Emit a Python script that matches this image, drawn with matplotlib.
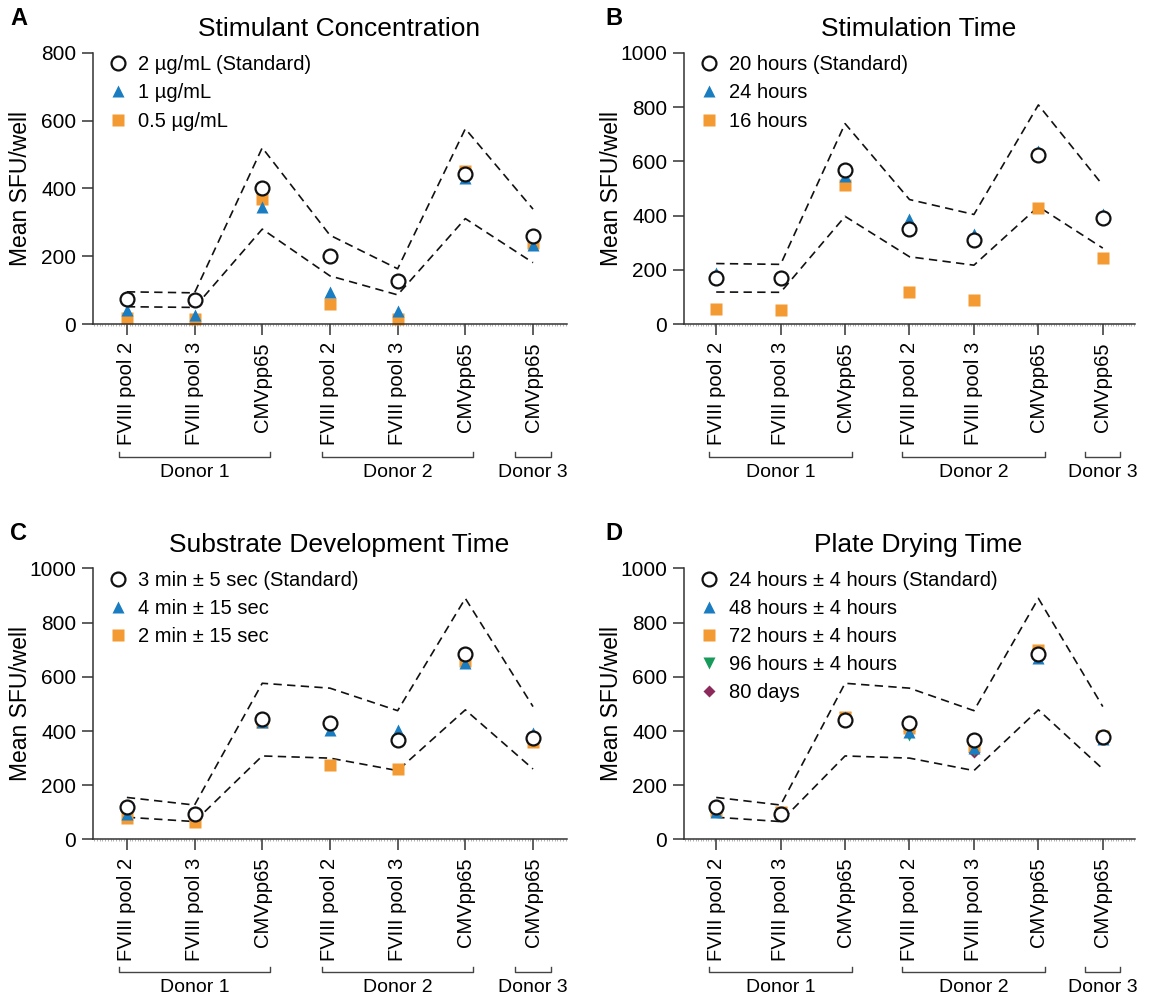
import numpy as np
import matplotlib
matplotlib.use("Agg")
import matplotlib.pyplot as plt
from matplotlib.ticker import MultipleLocator
from matplotlib.transforms import blended_transform_factory

plt.rcParams['font.family'] = ['Liberation Sans', 'DejaVu Sans']

# categories
cats = ["FVIII pool 2", "FVIII pool 3", "CMVpp65",
        "FVIII pool 2", "FVIII pool 3", "CMVpp65", "CMVpp65"]
donors = ["Donor 1", "Donor 2", "Donor 3"]

# A: stimulant concentration
a_std = [75, 72, 400, 200, 126, 443, 259]
a_1ug = [42, 27, 345, 95, 39, 432, 232]
a_05ug = [18, 16, 370, 59, 14, 450, 240]
a_up = [95, 92, 520, 262, 163, 576, 339]
a_lo = [51, 49, 280, 142, 86, 311, 181]

# B: stimulation time
b_20h = [171, 170, 568, 352, 309, 622, 392]
b_24h = [188, 177, 547, 388, 331, 637, 404]
b_16h = [54, 50, 512, 117, 87, 427, 243]
b_up = [223, 220, 739, 459, 404, 808, 512]
b_lo = [118, 117, 397, 248, 217, 433, 280]

# C: substrate development time
c_3min = [119, 95, 445, 429, 366, 684, 376]
c_4min = [95, 103, 432, 402, 402, 649, 392]
c_2min = [79, 66, 435, 275, 259, 658, 361]
c_up = [155, 127, 576, 558, 475, 889, 490]
c_lo = [82, 66, 308, 300, 254, 478, 260]

# D: plate drying time
d_24h = [119, 95, 442, 431, 367, 684, 377]
d_48h = [102, 97, 450, 398, 338, 669, 372]
d_72h = [104, 100, 450, 412, 343, 699, 382]
d_96h = [104, 97, 448, 386, 331, 685, 377]
d_80d = [104, 96, 446, 400, 324, 684, 377]
d_up = [155, 127, 576, 558, 475, 889, 490]
d_lo = [82, 66, 308, 300, 254, 478, 260]

blue = '#1a7cc1'
orange = '#f39a33'
green = '#179a5a'
maroon = '#8c2a5c'

W, H = 1170, 997
fig = plt.figure(figsize=(W / 100, H / 100), dpi=100)

x = np.arange(len(cats))


def panel(rect, letter, title, ymax, ystep, series, up, lo):
    ax = fig.add_axes(rect)
    ax.plot(x, up, ls=(0, (5, 3.2)), color='#111111', lw=1.2, zorder=1)
    ax.plot(x, lo, ls=(0, (5, 3.2)), color='#111111', lw=1.2, zorder=1)
    for vals, lab, mk, col, ms, zo in series:
        if mk == 'o':
            ax.plot(x, vals, 'o', ms=10, mfc='white', mec='#111111', mew=1.6,
                    label=lab, zorder=zo, clip_on=False)
        else:
            ax.plot(x, vals, mk, ms=ms, color=col, mec='none', label=lab,
                    zorder=zo, clip_on=False)
    ax.set_xlim(-0.5, 6.5)
    ax.set_ylim(0, ymax)
    ax.set_yticks(np.arange(0, ymax + 1, ystep))
    ax.set_xticks(x)
    ax.set_xticklabels(cats, rotation=90, fontsize=14.5)
    ax.xaxis.set_minor_locator(MultipleLocator(0.04))
    ax.tick_params(axis='x', which='minor', length=1.5, width=0.4, color='#777777')
    ax.tick_params(axis='both', which='major', length=8, width=1.1,
                   labelsize=15, color='#333333')
    ax.tick_params(axis='x', which='major', pad=5, labelsize=14.5)
    ax.tick_params(axis='y', which='major', pad=4)
    for s in ['top', 'right']:
        ax.spines[s].set_visible(False)
    for s in ['left', 'bottom']:
        ax.spines[s].set_linewidth(1.1)
        ax.spines[s].set_color('#333333')
    ax.set_ylabel("Mean SFU/well", fontsize=16.5)
    ax.yaxis.set_label_coords(-61 / (rect[2] * W), 0.5)
    ax.set_title(title, fontsize=19, pad=12, x=0.52)
    ax.text(-0.175, 1.085, letter, transform=ax.transAxes, fontsize=17,
            fontweight='bold', va='bottom', ha='left')
    ax.legend(loc='upper left', frameon=False, fontsize=14.5,
              bbox_to_anchor=(0.0, 1.035), handletextpad=0.35,
              labelspacing=0.45, borderaxespad=0.2, handlelength=1.3)
    # donor brackets
    tr = blended_transform_factory(ax.transData, ax.transAxes)
    for (x0, x1), name in zip([(-0.11, 2.11), (2.89, 5.11), (5.73, 6.27)], donors):
        ax.plot([x0, x0, x1, x1], [-0.471, -0.49, -0.49, -0.471], color='#444444',
                lw=1.0, transform=tr, clip_on=False)
        ax.text((x0 + x1) / 2, -0.515, name, transform=tr, ha='center', va='top',
                fontsize=14)
    return ax


panel([0.0795, 0.675, 0.405, 0.272], "A", "Stimulant Concentration", 800, 200,
      [(a_std, "2 µg/mL (Standard)", 'o', None, 10, 5),
       (a_1ug, "1 µg/mL", '^', blue, 9, 3),
       (a_05ug, "0.5 µg/mL", 's', orange, 8.5, 2.5)], a_up, a_lo)

panel([0.5846, 0.675, 0.3855, 0.272], "B", "Stimulation Time", 1000, 200,
      [(b_20h, "20 hours (Standard)", 'o', None, 10, 5),
       (b_24h, "24 hours", '^', blue, 9, 3),
       (b_16h, "16 hours", 's', orange, 8.5, 2.5)], b_up, b_lo)

panel([0.0795, 0.158, 0.405, 0.272], "C", "Substrate Development Time", 1000, 200,
      [(c_3min, "3 min ± 5 sec (Standard)", 'o', None, 10, 5),
       (c_4min, "4 min ± 15 sec", '^', blue, 9, 3),
       (c_2min, "2 min ± 15 sec", 's', orange, 8.5, 2.5)], c_up, c_lo)

panel([0.5846, 0.158, 0.3855, 0.272], "D", "Plate Drying Time", 1000, 200,
      [(d_24h, "24 hours ± 4 hours (Standard)", 'o', None, 10, 5),
       (d_48h, "48 hours ± 4 hours", '^', blue, 9, 3.5),
       (d_72h, "72 hours ± 4 hours", 's', orange, 8.5, 3),
       (d_96h, "96 hours ± 4 hours", 'v', green, 9, 2.5),
       (d_80d, "80 days", 'D', maroon, 6.5, 2)], d_up, d_lo)

fig.savefig("out.png", dpi=100)
